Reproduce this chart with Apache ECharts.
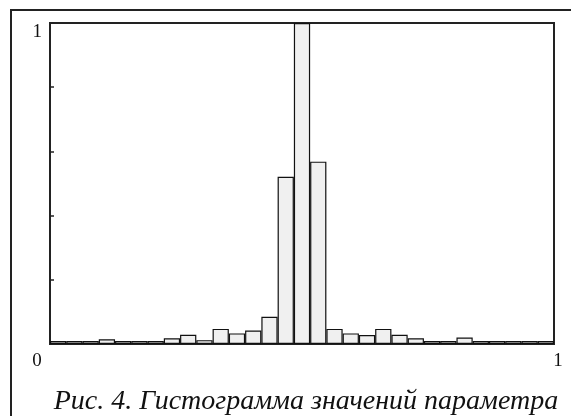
<!DOCTYPE html>
<html>
<head>
<meta charset="utf-8">
<script src="https://cdn.jsdelivr.net/npm/echarts@6/dist/echarts.min.js"></script>
<style>
  html, body { margin: 0; background: #fff; }
  #chart { width: 571px; height: 416px; }
</style>
</head>
<body>
<div id="chart"></div>
<script>
// номера интервалов гистограммы (31 интервал на отрезке [0, 1])
const bins = [0, 1, 2, 3, 4, 5, 6, 7, 8, 9, 10, 11, 12, 13, 14, 15,
              16, 17, 18, 19, 20, 21, 22, 23, 24, 25, 26, 27, 28, 29, 30]
// относительные частоты (нормированы на максимум)
const freq = [0.009, 0.009, 0.009, 0.015, 0.009, 0.009, 0.009, 0.018,
              0.029, 0.012, 0.047, 0.033, 0.042, 0.085, 0.521, 1.0,
              0.568, 0.047, 0.033, 0.028, 0.047, 0.029, 0.018, 0.009,
              0.009, 0.020, 0.009, 0.009, 0.009, 0.009, 0.009]
const xLabels = ['0', '1']
const yLabels = ['1']
const caption = 'Рис. 4. Гистограмма значений параметра'

const serif = "'Liberation Serif', 'DejaVu Serif', serif"

var chart = echarts.init(document.getElementById('chart'))

const option = {
    animation: false,
    backgroundColor: '#fff',
    graphic: [{
        // рамка рисунка (видны только верх и левый край)
        type: 'rect',
        silent: true,
        shape: { x: 11, y: 10, width: 700, height: 600 },
        style: { fill: 'none', stroke: '#222', lineWidth: 2 }
    }, {
        // подпись рисунка
        type: 'text',
        silent: true,
        style: {
            x: 306,
            y: 388,
            text: caption,
            align: 'center',
            verticalAlign: 'top',
            fontFamily: serif,
            fontStyle: 'italic',
            fontSize: 28,
            fill: '#111'
        }
    }],
    grid: {
        left: 50, right: 17, top: 23, bottom: 72,
        show: true,
        borderColor: '#222',
        borderWidth: 2
    },
    xAxis: [{
        // ось интервалов для столбцов
        type: 'category',
        position: 'top',
        data: bins,
        show: false
    }, {
        type: 'value',
        position: 'bottom',
        min: 0, max: 1, interval: 1,
        axisLine: { show: false },
        axisTick: { show: false },
        splitLine: { show: false },
        axisLabel: {
            margin: 8,
            formatter: function (v) {
                return v === 0 ? '{l|' + xLabels[0] + '}' : '{r|' + xLabels[1] + '}'
            },
            rich: {
                l: { fontFamily: serif, fontSize: 19, color: '#111', padding: [0, 26, 0, 0] },
                r: { fontFamily: serif, fontSize: 19, color: '#111', padding: [0, 0, 0, 8] }
            }
        }
    }],
    yAxis: {
        type: 'value',
        min: 0, max: 1, interval: 0.2,
        axisLine: { show: false },
        axisTick: { show: true, inside: true, length: 4, lineStyle: { color: '#222', width: 1.5 } },
        splitLine: { show: false },
        axisLabel: {
            margin: 8,
            verticalAlign: 'top',
            fontFamily: serif,
            fontSize: 19,
            color: '#111',
            formatter: function (v) { return v === 1 ? yLabels[0] : '' }
        }
    },
    series: [{
        type: 'bar',
        xAxisIndex: 0,
        data: freq,
        barCategoryGap: '0%',
        itemStyle: {
            color: '#f0f0f0',
            borderColor: '#111',
            borderWidth: 1.2
        }
    }]
};

chart.setOption(option);
</script>
</body>
</html>
